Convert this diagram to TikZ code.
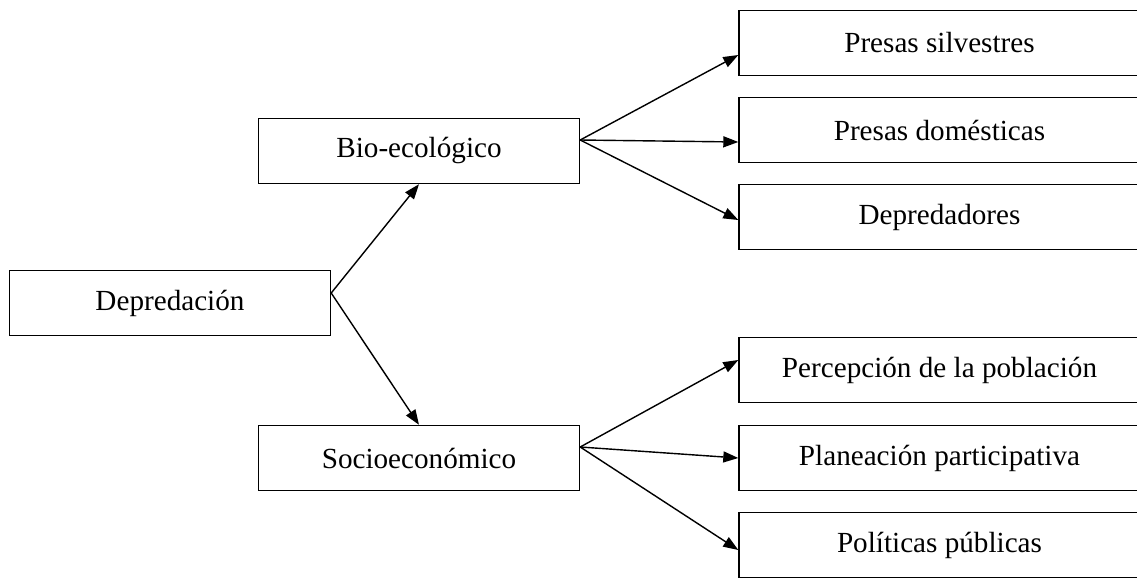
\documentclass[tikz,border=0pt]{standalone}
\usepackage{fontspec}
\setmainfont{Liberation Serif}
\usetikzlibrary{arrows.meta}

\begin{document}
\begin{tikzpicture}[every node/.style={draw, rectangle, line width=0.8pt, minimum height=1.3cm, font=\fontsize{16.6}{19}\selectfont},
  leftbox/.style={minimum width=6.42cm},
  rightbox/.style={minimum width=8.4cm},
  >={Triangle[length=0.3cm,width=0.22cm]}]
\clip (0,0) rectangle (22.74,-11.54);

\node[leftbox] (Dep) at (3.4,-6.06) {Depredación};
\node[leftbox] (Bio) at (8.38,-3.02) {Bio-ecológico};
\node[leftbox] (Soc) at (8.38,-9.16) {Socioeconómico};

\node[rightbox] (PS) at (18.98,-0.86) {\hspace*{-0.38cm}Presas silvestres};
\node[rightbox] (PD) at (18.98,-2.6) {\hspace*{-0.38cm}Presas domésticas};
\node[rightbox] (DP) at (18.98,-4.34) {\hspace*{-0.38cm}Depredadores};
\node[rightbox] (PP) at (18.98,-7.4) {\hspace*{-0.38cm}Percepción de la población};
\node[rightbox] (PL) at (18.98,-9.16) {\hspace*{-0.38cm}Planeación participativa};
\node[rightbox] (PO) at (18.98,-10.9) {\hspace*{-0.38cm}Políticas públicas};

% Draw arrows from the root to the two aspects
\draw[->, line width=0.8pt] ([yshift=0.2cm]Dep.east) -- (Bio.south);
\draw[->, line width=0.8pt] ([yshift=0.2cm]Dep.east) -- (Soc.north);

\draw[->, line width=0.8pt] ([yshift=0.22cm]Bio.east) -- ([yshift=-0.24cm]PS.west);
\draw[->, line width=0.8pt] ([yshift=0.22cm]Bio.east) -- ([yshift=-0.24cm]PD.west);
\draw[->, line width=0.8pt] ([yshift=0.22cm]Bio.east) -- ([yshift=-0.06cm]DP.west);

\draw[->, line width=0.8pt] ([yshift=0.22cm]Soc.east) -- ([yshift=0.2cm]PP.west);
\draw[->, line width=0.8pt] ([yshift=0.22cm]Soc.east) -- (PL.west);
\draw[->, line width=0.8pt] ([yshift=0.22cm]Soc.east) -- ([yshift=-0.1cm]PO.west);

\end{tikzpicture}
\end{document}
